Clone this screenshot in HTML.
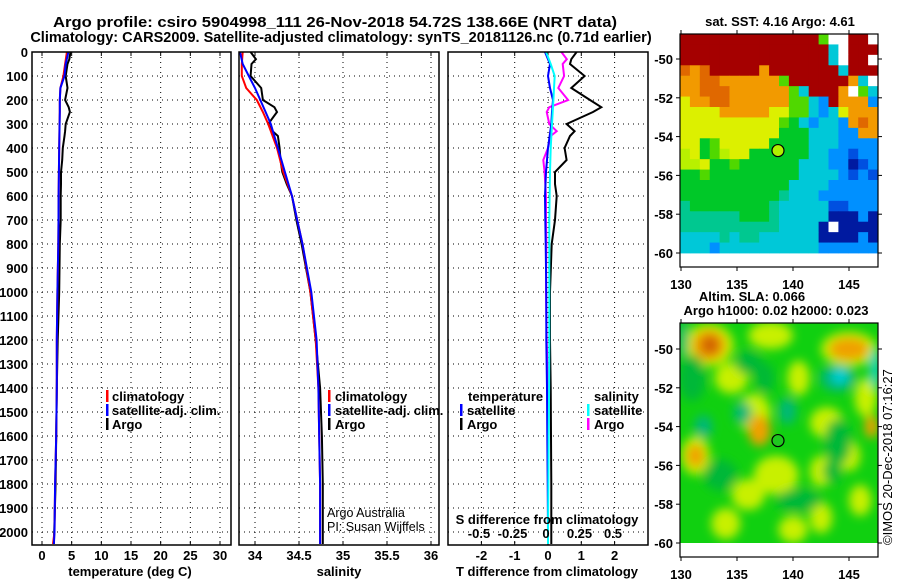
<!DOCTYPE html>
<html><head><meta charset="utf-8"><style>
html,body{margin:0;padding:0;background:#fff;}
svg{display:block;font-family:"Liberation Sans",sans-serif;}
.b{font-weight:bold;font-size:13px;}
.t{font-weight:bold;font-size:14.5px;}
</style></head><body>
<svg id="s" width="900" height="580" viewBox="0 0 900 580" xmlns="http://www.w3.org/2000/svg">
<defs>
<clipPath id="cp1"><rect x="32" y="52" width="199" height="493"/></clipPath>
<clipPath id="cp2"><rect x="239" y="52" width="200" height="493"/></clipPath>
<clipPath id="cp3"><rect x="448" y="52" width="200" height="493"/></clipPath>
<clipPath id="cpm2"><rect x="680" y="323" width="198" height="220"/></clipPath>
<filter id="blur" x="-20%" y="-20%" width="140%" height="140%"><feGaussianBlur stdDeviation="5"/></filter>
</defs>
<text class="t" x="53" y="27" textLength="564" lengthAdjust="spacingAndGlyphs">Argo profile: csiro 5904998_111 26-Nov-2018 54.72S 138.66E (NRT data)</text>
<text class="t" x="341" y="42" text-anchor="middle">Climatology: CARS2009. Satellite-adjusted climatology: synTS_20181126.nc (0.71d earlier)</text>
<g id="g1"></g>
<g id="g2"></g>
<g id="g3"></g>
<g id="m1"></g>
<g id="m2"></g>
<text x="892" y="545" font-size="13" transform="rotate(-90 892 545)">©IMOS 20-Dec-2018 07:16:27</text>
</svg>
<script>
// ---- data ----
const depthTicks = [0,100,200,300,400,500,600,700,800,900,1000,1100,1200,1300,1400,1500,1600,1700,1800,1900,2000];
const tempTicks = [0,5,10,15,20,25,30];
const salTicks = [34,34.5,35,35.5,36];
const salTickLabels = ["34","34.5","35","35.5","36"];
const tdiffTicks = [-2,-1,0,1,2];
const sdiffTicks = [-0.5,-0.25,0,0.25,0.5];
const sdiffTickLabels = ["-0.5","-0.25","0","0.25","0.5"];

const argoDepth = [0,30,50,100,150,200,230,250,300,330,350,400,450,500,550,600,700,800,1000,1200,1400,1600,1800,2000,2050];
const argoTemp = [4.8,4.6,4.3,4.0,4.3,3.9,4.5,4.7,4.0,3.9,3.8,3.5,3.4,3.2,3.2,3.15,3.15,3.0,2.9,2.65,2.5,2.4,2.3,2.05,2.0];
const argoSal = [33.95,34.01,33.96,33.95,34.07,34.09,34.22,34.25,34.15,34.2,34.26,34.28,34.29,34.31,34.36,34.42,34.47,34.53,34.63,34.69,34.74,34.76,34.77,34.77,34.77];
const argoTdiff = [0.86,0.7,0.66,1.1,0.7,1.26,1.6,1.35,0.56,0.8,0.66,0.5,0.56,0.21,0.21,0.26,0.21,0.11,0.06,0.06,0.08,0.09,0.1,0.1,0.1];
const argoSdiff = [0.10,0.14,0.11,0.12,0.077,0.15,0.01,-0.01,0.01,0.065,0.02,0.0,-0.035,-0.025,-0.02,-0.015,-0.015,-0.012,-0.015,-0.01,0.0,0.0,0.0,0.0,0.0];

const climDepth = [0,50,100,150,200,250,300,400,500,600,700,800,1000,1200,1400,1600,1800,2000,2050];
const climTemp = [4.2,3.9,3.6,3.1,3.0,3.0,2.95,2.9,2.85,2.8,2.78,2.75,2.6,2.5,2.5,2.4,2.2,2.1,1.85];
const climSal = [33.86,33.85,33.85,33.9,34.02,34.09,34.15,34.25,34.32,34.42,34.48,34.54,34.63,34.69,34.72,34.73,34.74,34.74,34.74];
const satTemp = [4.45,4.0,3.8,3.1,3.0,3.0,2.97,2.9,2.85,2.8,2.78,2.75,2.6,2.5,2.5,2.4,2.2,2.1,2.0];
const satSal = [33.83,33.86,33.93,34.0,34.06,34.12,34.18,34.26,34.34,34.42,34.48,34.54,34.64,34.7,34.72,34.73,34.74,34.74,34.74];
const satTdiff = [-0.09,0.06,0.0,0.06,0.15,0.12,0.1,0.0,-0.06,-0.09,-0.08,-0.07,-0.05,-0.05,-0.03,-0.02,-0.01,0.0,0.0];
const satSdiff = [-0.015,0.02,0.05,0.045,0.04,0.035,0.03,0.02,0.015,0.012,0.01,0.01,0.01,0.01,0.008,0.005,0.003,0.0,0.0];

// SST map cells (rows top->bottom)
const sstRows = [
"RRRRRRRRRRRRRRgwwRRw",
"RRRRRRRRRRRRRRRcwRRR",
"RRRRRRRRRRRRRRRcwRRw",
"OoORRRRRoRRRRRRRcRRR",
"ooOOoooooogRRRRRRocw",
"ooOOOoooooogcRRRowgc",
"yooOOooooooggcbRooob",
"yyyyoooooyyggcbcyooo",
"yyyyyyyyyygGcbccboOo",
"yyyyyyyyyyGGGcccbboo",
"yyGgyyyyyGGGGcccbbbb",
"YyGgYyyGGGGGGccbbBbb",
"YYyGGgGGGGGGcccbbNBb",
"GGgGGGGGGGGGccccbBbB",
"GGGGGGGGGGGccccbbbbb",
"GGGGGGGGGGtcccbbbbbb",
"tGGGGGGGGtcccccBBbbb",
"ttttttGGGtcccccNNNbN",
"ttttttttttccccNwNNNN",
"cccctcttccccccNNNNbN",
"cccbccccccccccbbbbbb"
];
const sstColors = {R:"#a50000",O:"#e06800",o:"#f29a00",y:"#dcf000",Y:"#b8f000",g:"#50d800",G:"#00c828",t:"#00c890",c:"#00c8d8",b:"#0090ff",B:"#0050e0",N:"#001aa0",w:"#ffffff"};

// SLA map blobs: [lon, lat, rx(deg), ry(deg), colour-key]
const slaBlobs = [
[132.5,-49.8,2.2,1.1,"y"],[145,-50,2.5,0.9,"y"],[132.5,-49.8,1.5,0.8,"o"],[145,-50,1.8,0.6,"o"],[132.6,-49.8,0.8,0.5,"O"],
[138,-49.3,2,0.7,"y"],[134.5,-51.5,1.5,0.8,"y"],[140.5,-51.5,1,0.9,"y"],[146.5,-52.5,1,1,"y"],[147,-54,0.6,0.6,"o"],
[136.5,-53.3,1.5,1,"y"],[137,-54.2,1,0.8,"o"],[131.3,-55.5,1.3,1,"y"],[131.3,-55.5,0.8,0.6,"o"],[143,-53.8,1.5,0.8,"y"],
[138.5,-56.5,2,1,"y"],[136,-57.5,1.5,0.8,"y"],[142.5,-56.3,1,0.8,"y"],[145,-55.5,1,0.8,"y"],[140,-59.3,1.3,0.7,"y"],
[134,-59,1.3,0.8,"y"],[142.5,-58.7,1,0.8,"y"],[146,-57.8,1,0.8,"y"],
[131,-51.5,1.2,1.2,"G"],[133.5,-56.5,1.5,0.8,"G"],[140.5,-57.8,2,0.6,"G"],[144,-54.8,1.2,1.2,"G"],[136,-50.7,1.2,0.6,"G"],
[144,-51.5,1.6,0.7,"t"],[144.2,-51.4,0.7,0.4,"c"],[147.3,-51,0.4,1,"c"],[135.5,-53.3,0.8,0.6,"t"],[139.5,-53.2,0.8,0.7,"t"],
[132,-54,0.8,0.6,"t"],[137.5,-51.5,0.8,0.8,"G"],[143.5,-56.3,0.8,0.6,"G"],[130.2,-49.5,0.4,1,"t"]
];
const slaColors = {y:"#c8f000",o:"#f0a000",O:"#d06000",t:"#00b878",c:"#00d0d8",G:"#00b838"};

// ---- helpers ----
const NS = "http://www.w3.org/2000/svg";
function mk(tag, attrs, parent){ const e=document.createElementNS(NS,tag); for(const k in attrs) e.setAttribute(k,attrs[k]); parent.appendChild(e); return e; }
const Y0=52, YB=545;
const yD = d => Y0 + d*0.24;
const x1 = t => 42 + t*(178/30);
const x2 = s => 255 + (s-34)*88;
const x3 = v => 548 + v*33.3;
const x3s = v => 548 + v*134;

function panel(g, L, R, xs, xticks){
  for(const d of depthTicks){ const l=mk('line',{x1:L,x2:R,y1:yD(d),y2:yD(d),stroke:'#000','stroke-width':1,'stroke-dasharray':'1,4'},g);

 }
  for(const t of xticks){ const l=mk('line',{x1:xs(t),x2:xs(t),y1:Y0,y2:YB,stroke:'#000','stroke-width':1,'stroke-dasharray':'1,4'},g);


    mk('line',{x1:xs(t),x2:xs(t),y1:Y0,y2:Y0+4,stroke:'#000'},g); mk('line',{x1:xs(t),x2:xs(t),y1:YB,y2:YB-4,stroke:'#000'},g); }
}
function series(g, depth, vals, xs, color, name, w){
  const pts = depth.map((d,i)=>xs(vals[i]).toFixed(1)+','+yD(d).toFixed(1)).join(' ');
  const p = mk('polyline',{points:pts,fill:'none',stroke:color,'stroke-width':w||2},g);
  
  
}
function box(g,L,R,name){ const r=mk('rect',{x:L,y:Y0,width:R-L,height:YB-Y0,fill:'none',stroke:'#000','stroke-width':1.5},g);

 }
function txt(g,x,y,s,cls,anchor,name){ const t=mk('text',{x:x,y:y,'text-anchor':anchor||'start'},g); if(cls) t.setAttribute('class',cls); t.textContent=s;

 return t; }
function legBar(g,x,y,c){ const r=mk('rect',{x:x,y:y-11,width:2.5,height:12,fill:c},g);

 }

// ---- panel 1 ----
const g1=document.getElementById('g1');
panel(g1,32,231,x1,tempTicks);
const c1=mk('g',{'clip-path':'url(#cp1)'},g1);
series(c1,argoDepth,argoTemp,x1,'#000','argo-temperature-line');
series(c1,climDepth,climTemp,x1,'#f00','climatology-temperature-line');
series(c1,climDepth,satTemp,x1,'#00f','satellite-temperature-line');
box(g1,32,231,'temperature-axes-box');
for(const d of depthTicks) txt(g1,28,yD(d)+5,String(d),'b','end','y-tick-label');
for(const t of tempTicks) txt(g1,x1(t),560,String(t),'b','middle','x-tick-label');
txt(g1,130,576,'temperature (deg C)','b','middle','x-axis-title');
legBar(g1,106,401,'#f00'); txt(g1,112,401,'climatology','b','start','legend-entry');
legBar(g1,106,415,'#00f'); txt(g1,112,415,'satellite-adj. clim.','b','start','legend-entry');
legBar(g1,106,429,'#000'); txt(g1,112,429,'Argo','b','start','legend-entry');

// ---- panel 2 ----
const g2=document.getElementById('g2');
panel(g2,239,439,x2,salTicks);
const c2=mk('g',{'clip-path':'url(#cp2)'},g2);
series(c2,argoDepth,argoSal,x2,'#000','argo-salinity-line');
series(c2,climDepth,climSal,x2,'#f00','climatology-salinity-line');
series(c2,climDepth,satSal,x2,'#00f','satellite-salinity-line');
box(g2,239,439,'salinity-axes-box');
salTicks.forEach((t,i)=>txt(g2,x2(t),560,salTickLabels[i],'b','middle','x-tick-label'));
txt(g2,339,576,'salinity','b','middle','x-axis-title');
legBar(g2,328,401,'#f00'); txt(g2,335,401,'climatology','b','start','legend-entry');
legBar(g2,328,415,'#00f'); txt(g2,335,415,'satellite-adj. clim.','b','start','legend-entry');
legBar(g2,328,429,'#000'); txt(g2,335,429,'Argo','b','start','legend-entry');
const a1=txt(g2,327,517,'Argo Australia','', 'start','credit-argo-australia'); a1.setAttribute('font-size','12.5');
const a2=txt(g2,327,531,'PI: Susan Wijffels','', 'start','credit-pi'); a2.setAttribute('font-size','12.5');

// ---- panel 3 ----
const g3=document.getElementById('g3');
panel(g3,448,648,x3,tdiffTicks);
const c3=mk('g',{'clip-path':'url(#cp3)'},g3);
series(c3,argoDepth,argoTdiff,x3,'#000','argo-temperature-difference-line');
series(c3,argoDepth,argoSdiff,x3s,'#f0f','argo-salinity-difference-line');
series(c3,climDepth,satTdiff,x3,'#00f','satellite-temperature-difference-line');
series(c3,climDepth,satSdiff,x3s,'#0ff','satellite-salinity-difference-line');
box(g3,448,648,'difference-axes-box');
tdiffTicks.forEach(t=>txt(g3,x3(t),560,String(t),'b','middle','x-tick-label'));
txt(g3,547,576,'T difference from climatology','b','middle','x-axis-title');
txt(g3,547,524,'S difference from climatology','b','middle','secondary-axis-title');
sdiffTicks.forEach((t,i)=>txt(g3,x3s(t)-2,538,sdiffTickLabels[i],'b','middle','secondary-tick-label'));
txt(g3,468,401,'temperature','b','start','legend-title');
legBar(g3,460,415,'#00f'); txt(g3,467,415,'satellite','b','start','legend-entry');
legBar(g3,460,429,'#000'); txt(g3,467,429,'Argo','b','start','legend-entry');
txt(g3,594,401,'salinity','b','start','legend-title');
legBar(g3,587,415,'#0ff'); txt(g3,594,415,'satellite','b','start','legend-entry');
legBar(g3,587,429,'#f0f'); txt(g3,594,429,'Argo','b','start','legend-entry');

// ---- maps ----
const lonX = lon => 681 + (lon-130)*11.2;
const latY = (lat,top) => top + (-50-lat)*19.4;
const mapLon=[130,135,140,145], mapLat=[-50,-52,-54,-56,-58,-60];
function mapAxes(g,boxTop,boxBot,lat50,name){
  const r=mk('rect',{x:680,y:boxTop,width:198,height:boxBot-boxTop,fill:'none',stroke:'#000','stroke-width':1.2},g);
  
  
  for(const lo of mapLon){ mk('line',{x1:lonX(lo),x2:lonX(lo),y1:boxBot,y2:boxBot+4,stroke:'#000'},g); mk('line',{x1:lonX(lo),x2:lonX(lo),y1:boxTop,y2:boxTop-4,stroke:'#000'},g);
    txt(g,lonX(lo),boxBot+22,String(lo),'b','middle','map-x-tick-label').setAttribute('font-size','14'); }
  for(const la of mapLat){ const y=latY(la,lat50); mk('line',{x1:680,x2:676,y1:y,y2:y,stroke:'#000'},g); mk('line',{x1:878,x2:882,y1:y,y2:y,stroke:'#000'},g);
    txt(g,673,y+5,String(la),'b','end','map-y-tick-label').setAttribute('font-size','14'); }
}
const m1=document.getElementById('m1');
const nr=sstRows.length, nc=sstRows[0].length, top1=34, bot1=253;
const cw=198/nc, ch=(bot1-top1)/nr;
sstRows.forEach((row,i)=>{ for(let j=0;j<nc;j++){ const r=mk('rect',{x:(680+j*cw).toFixed(2),y:(top1+i*ch).toFixed(2),width:(cw+0.4).toFixed(2),height:(ch+0.4).toFixed(2),fill:sstColors[row[j]]},m1);

 }});
mapAxes(m1,34,267,59,'sst-map-frame');
const pc1=mk('circle',{cx:lonX(138.66),cy:latY(-54.72,59),r:6,fill:'#b0f000',stroke:'#000','stroke-width':1.2},m1);


txt(m1,780,26,'sat. SST: 4.16 Argo: 4.61','b','middle','sst-map-title');

const m2=document.getElementById('m2');
const cg=mk('g',{'clip-path':'url(#cpm2)'},m2);
const bg=mk('rect',{x:680,y:323,width:198,height:220,fill:'#10d010'},cg);


const bl=mk('g',{filter:'url(#blur)'},cg);
for(const b of slaBlobs){ const e=mk('ellipse',{cx:lonX(b[0]),cy:latY(b[1],349),rx:b[2]*11.2,ry:b[3]*19.4,fill:slaColors[b[4]]},bl);

 }
mapAxes(m2,323,557,349,'sla-map-frame');
const pc2=mk('circle',{cx:lonX(138.66),cy:latY(-54.72,349),r:6,fill:'#20c820',stroke:'#000','stroke-width':1.2},m2);


txt(m2,752,301,'Altim. SLA: 0.066','b','middle','sla-map-title');
txt(m2,776,315,'Argo h1000: 0.02 h2000: 0.023','b','middle','sla-map-subtitle');
</script>
</body></html>
